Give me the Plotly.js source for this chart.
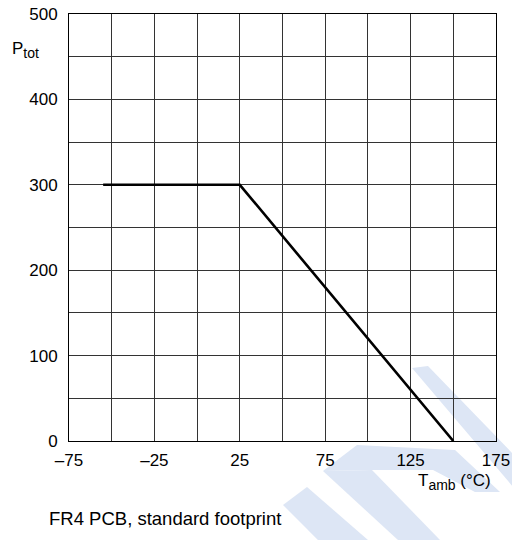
<!DOCTYPE html>
<html>
<head>
<meta charset="utf-8">
<script src="https://cdn.plot.ly/plotly-3.0.1.min.js"></script>
<style>html,body{margin:0;padding:0;background:#fff;}#chart{width:512px;height:540px;}</style>
</head>
<body>
<div id="chart"></div>
<script>
// Data: derating curve
const tAmb = [-55, 25, 150];
const pTot = [300, 300, 0];

const xTickVals = [-75, -50, -25, 0, 25, 50, 75, 100, 125, 150, 175];
const xTickText = ['–75', '', '–25', '', '25', '', '75', '', '125', '', '175'];
const yTickVals = [0, 50, 100, 150, 200, 250, 300, 350, 400, 450, 500];
const yTickText = ['0', '', '100', '', '200', '', '300', '', '400', '', '500'];

const L = 69, T = 14, W = 427, H = 427;
function px(x) { return (x - L) / W; }
function py(y) { return (T + H - y) / H; }
function poly(pts) {
  return 'M' + pts.map(p => px(p[0]).toFixed(4) + ',' + py(p[1]).toFixed(4)).join(' L') + ' Z';
}
const wm = '#dde6f5';
const shapes = [
  {type: 'path', xref: 'paper', yref: 'paper', layer: 'below', fillcolor: wm, line: {width: 0},
   path: poly([[412, 368], [428, 366], [514, 455], [514, 488]])},
  {type: 'path', xref: 'paper', yref: 'paper', layer: 'below', fillcolor: wm, line: {width: 0},
   path: poly([[323, 471], [357, 445], [455, 450], [500, 492], [475, 492], [433, 470], [372, 470]])},
  {type: 'path', xref: 'paper', yref: 'paper', layer: 'below', fillcolor: wm, line: {width: 0},
   path: poly([[323, 471], [372, 470], [440, 540], [398, 540]])},
  {type: 'path', xref: 'paper', yref: 'paper', layer: 'below', fillcolor: wm, line: {width: 0},
   path: poly([[307, 487], [283, 505], [318, 540], [368, 540]])}
];

const fam = 'Liberation Sans, Arial, sans-serif';
const font = {family: fam, size: 17, color: '#000'};

Plotly.newPlot('chart', [{
  x: tAmb, y: pTot, type: 'scatter', mode: 'lines',
  line: {color: '#000', width: 2.6}, hoverinfo: 'none'
}], {
  width: 512, height: 540,
  margin: {l: L, r: 512 - L - W, t: T, b: 540 - T - H},
  paper_bgcolor: '#fff', plot_bgcolor: 'rgba(0,0,0,0)',
  showlegend: false,
  font: font,
  xaxis: {
    range: [-75, 175], tickmode: 'array', tickvals: xTickVals, ticktext: xTickText,
    showgrid: true, gridcolor: '#333', gridwidth: 1, zeroline: false,
    showline: true, linecolor: '#000', linewidth: 1, mirror: true,
    ticks: 'outside', ticklen: 4, tickcolor: 'rgba(0,0,0,0)', fixedrange: true, tickfont: font
  },
  yaxis: {
    range: [0, 500], tickmode: 'array', tickvals: yTickVals, ticktext: yTickText,
    showgrid: true, gridcolor: '#333', gridwidth: 1, zeroline: false,
    showline: true, linecolor: '#000', linewidth: 1, mirror: true,
    ticks: 'outside', ticklen: 7, tickcolor: 'rgba(0,0,0,0)', fixedrange: true, tickfont: font
  },
  shapes: shapes,
  annotations: [
    {xref: 'paper', yref: 'paper', x: px(10), y: py(50), xanchor: 'left', yanchor: 'middle',
     text: 'P<sub><span style="font-size:14px">tot</span></sub>', showarrow: false, font: font},
    {xref: 'paper', yref: 'paper', x: px(493), y: py(482), xanchor: 'right', yanchor: 'middle',
     text: 'T<sub><span style="font-size:14px">amb</span></sub> (°C)', showarrow: false, font: font},
    {xref: 'paper', yref: 'paper', x: px(47), y: py(518), xanchor: 'left', yanchor: 'middle',
     text: 'FR4 PCB, standard footprint', showarrow: false, font: {family: fam, size: 18.5, color: '#000'}}
  ]
}, {staticPlot: true, displayModeBar: false});
</script>
</body>
</html>
